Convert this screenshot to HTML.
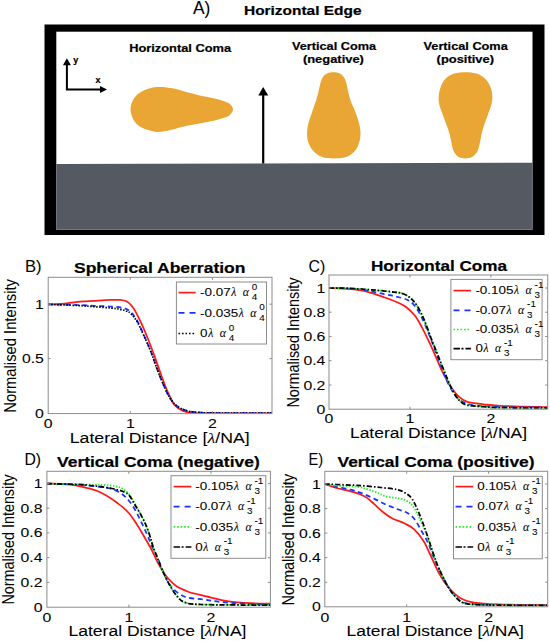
<!DOCTYPE html>
<html><head><meta charset="utf-8"><style>
html,body{margin:0;padding:0;background:#fff;width:550px;height:641px;overflow:hidden}
svg{display:block}
text{font-family:"Liberation Sans",sans-serif;fill:#000;stroke:#000;stroke-width:0.06px}
text[font-weight=bold]{stroke-width:0.2px}
.gr{font-family:"Liberation Serif",serif;font-style:italic}
</style></head><body>
<svg width="550" height="641" viewBox="0 0 550 641">
<rect width="550" height="641" fill="#fff"/>
<text x="193.0" y="14.4" font-size="18.00" textLength="17.4" lengthAdjust="spacingAndGlyphs">A)</text>
<text x="244.0" y="14.6" font-size="12.40" font-weight="bold" textLength="117.5" lengthAdjust="spacingAndGlyphs">Horizontal Edge</text>
<rect x="44.5" y="24.5" width="500" height="210.5" fill="#000"/>
<rect x="56.3" y="31.7" width="476.2" height="198.1" fill="#fff"/>
<polygon points="56.3,163.9 532.5,162.7 532.5,229.8 56.3,229.8" fill="#555A62"/>
<text x="129.2" y="51.9" font-size="11.30" font-weight="bold" textLength="102.0" lengthAdjust="spacingAndGlyphs">Horizontal Coma</text>
<text x="292.0" y="50.4" font-size="11.30" font-weight="bold" textLength="84.0" lengthAdjust="spacingAndGlyphs">Vertical Coma</text>
<text x="302.9" y="63.4" font-size="11.30" font-weight="bold" textLength="61.0" lengthAdjust="spacingAndGlyphs">(negative)</text>
<text x="423.5" y="50.4" font-size="11.30" font-weight="bold" textLength="84.3" lengthAdjust="spacingAndGlyphs">Vertical Coma</text>
<text x="436.6" y="63.4" font-size="11.30" font-weight="bold" textLength="57.4" lengthAdjust="spacingAndGlyphs">(positive)</text>
<path d="M66.9 64 V89.5 H101" stroke="#000" stroke-width="2" fill="none"/>
<polygon points="66.9,58.2 62.9,65.3 70.9,65.3" fill="#000"/>
<polygon points="107,89.5 100,86 100,93" fill="#000"/>
<text x="73.3" y="62.5" font-size="9.00" font-weight="bold">y</text>
<text x="95.6" y="82.7" font-size="9.00" font-weight="bold">x</text>
<path d="M263.2 94 V163.5" stroke="#000" stroke-width="2.2" fill="none"/>
<polygon points="263.2,87 258.3,95.6 268.2,95.6" fill="#000"/>
<path d="M130.50 109.50 C130.50 105.77 132.13 101.35 134.10 98.30 C136.07 95.25 138.57 93.07 142.30 91.20 C146.03 89.33 151.75 87.62 156.50 87.10 C161.25 86.58 165.70 87.25 170.80 88.10 C175.90 88.95 181.67 90.83 187.10 92.20 C192.53 93.57 198.32 95.12 203.40 96.30 C208.48 97.48 214.00 98.42 217.60 99.30 C221.20 100.18 222.87 100.72 225.00 101.60 C227.13 102.48 229.07 103.28 230.40 104.60 C231.73 105.92 233.00 107.87 233.00 109.50 C233.00 111.13 231.73 113.05 230.40 114.40 C229.07 115.75 227.13 116.72 225.00 117.60 C222.87 118.48 221.20 118.85 217.60 119.70 C214.00 120.55 208.48 121.68 203.40 122.70 C198.32 123.72 192.53 124.60 187.10 125.80 C181.67 127.00 175.90 128.88 170.80 129.90 C165.70 130.92 161.25 132.25 156.50 131.90 C151.75 131.55 146.03 129.67 142.30 127.80 C138.57 125.93 136.07 123.75 134.10 120.70 C132.13 117.65 130.50 113.23 130.50 109.50 Z" fill="#E9A634"/>
<path d="M333.40 72.20 C335.38 72.20 337.58 72.42 339.30 73.20 C341.02 73.98 342.53 75.30 343.70 76.90 C344.87 78.50 345.55 80.33 346.30 82.80 C347.05 85.27 347.40 88.48 348.20 91.70 C349.00 94.92 349.87 98.63 351.10 102.10 C352.33 105.57 354.23 108.80 355.60 112.50 C356.97 116.20 358.48 120.85 359.30 124.30 C360.12 127.75 360.50 130.23 360.50 133.20 C360.50 136.17 360.23 139.13 359.30 142.10 C358.37 145.07 357.12 148.52 354.90 151.00 C352.68 153.48 349.58 155.77 346.00 157.00 C342.42 158.23 337.37 158.40 333.40 158.40 C329.43 158.40 325.55 158.23 322.20 157.00 C318.85 155.77 315.63 153.48 313.30 151.00 C310.97 148.52 309.23 145.07 308.20 142.10 C307.17 139.13 307.10 136.17 307.10 133.20 C307.10 130.23 307.40 127.75 308.20 124.30 C309.00 120.85 310.67 116.20 311.90 112.50 C313.13 108.80 314.50 105.57 315.60 102.10 C316.70 98.63 317.68 94.92 318.50 91.70 C319.32 88.48 319.75 85.27 320.50 82.80 C321.25 80.33 321.85 78.50 323.00 76.90 C324.15 75.30 325.67 73.98 327.40 73.20 C329.13 72.42 331.42 72.20 333.40 72.20 Z" fill="#E9A634"/>
<path d="M465.40 72.20 C469.12 72.20 473.17 72.45 476.50 73.60 C479.83 74.75 483.05 76.82 485.40 79.10 C487.75 81.38 489.45 84.45 490.60 87.30 C491.75 90.15 492.18 93.23 492.30 96.20 C492.42 99.17 492.08 101.90 491.30 105.10 C490.52 108.30 488.83 111.95 487.60 115.40 C486.37 118.85 484.93 122.58 483.90 125.80 C482.87 129.02 482.10 131.73 481.40 134.70 C480.70 137.67 480.40 140.75 479.70 143.60 C479.00 146.45 478.48 149.57 477.20 151.80 C475.92 154.03 473.97 155.90 472.00 157.00 C470.03 158.10 467.62 158.40 465.40 158.40 C463.18 158.40 460.62 158.10 458.70 157.00 C456.78 155.90 455.08 154.03 453.90 151.80 C452.72 149.57 452.28 146.45 451.60 143.60 C450.92 140.75 450.60 137.67 449.80 134.70 C449.00 131.73 447.92 129.02 446.80 125.80 C445.68 122.58 444.33 118.85 443.10 115.40 C441.87 111.95 440.13 108.30 439.40 105.10 C438.67 101.90 438.50 99.17 438.70 96.20 C438.90 93.23 439.50 90.15 440.60 87.30 C441.70 84.45 443.03 81.38 445.30 79.10 C447.57 76.82 450.85 74.75 454.20 73.60 C457.55 72.45 461.68 72.20 465.40 72.20 Z" fill="#E9A634"/>
<clipPath id="cb"><rect x="48.2" y="274.3" width="223.8" height="139.3"/></clipPath>
<g clip-path="url(#cb)" fill="none" stroke-width="1.75">
<path d="M48.30 304.30 C50.48 304.23 56.50 304.32 61.40 303.90 C66.30 303.48 72.25 302.32 77.70 301.80 C83.15 301.28 88.63 301.12 94.10 300.80 C99.57 300.48 106.13 300.05 110.50 299.90 C114.87 299.75 117.58 299.63 120.30 299.90 C123.02 300.17 125.02 300.65 126.80 301.50 C128.58 302.35 129.63 303.48 131.00 305.00 C132.37 306.52 133.25 307.48 135.00 310.60 C136.75 313.72 139.33 318.97 141.50 323.70 C143.67 328.43 145.82 333.55 148.00 339.00 C150.18 344.45 152.43 350.48 154.60 356.40 C156.77 362.32 158.83 368.63 161.00 374.50 C163.17 380.37 165.35 386.52 167.60 391.60 C169.85 396.68 171.93 401.77 174.50 405.00 C177.07 408.23 180.13 409.70 183.00 411.00 C185.87 412.30 188.03 412.42 191.70 412.80 C195.37 413.18 191.62 413.20 205.00 413.30 C218.38 413.40 260.83 413.38 272.00 413.40" stroke="#ff1a1a"/>
<path d="M48.30 304.40 C53.20 304.50 70.07 304.77 77.70 305.00 C85.33 305.23 88.63 305.55 94.10 305.80 C99.57 306.05 105.58 306.13 110.50 306.50 C115.42 306.87 120.25 307.08 123.60 308.00 C126.95 308.92 128.32 309.83 130.60 312.00 C132.88 314.17 135.07 317.08 137.30 321.00 C139.53 324.92 141.72 330.33 144.00 335.50 C146.28 340.67 148.75 346.25 151.00 352.00 C153.25 357.75 155.33 364.33 157.50 370.00 C159.67 375.67 161.92 381.33 164.00 386.00 C166.08 390.67 167.90 394.70 170.00 398.00 C172.10 401.30 173.85 403.68 176.60 405.80 C179.35 407.92 182.72 409.60 186.50 410.70 C190.28 411.80 194.55 412.02 199.30 412.40 C204.05 412.78 202.88 412.87 215.00 413.00 C227.12 413.13 262.50 413.17 272.00 413.20" stroke="#1a33ff" stroke-dasharray="5 3.5"/>
<path d="M48.30 304.40 C53.20 304.58 70.07 305.12 77.70 305.50 C85.33 305.88 88.63 306.28 94.10 306.70 C99.57 307.12 106.13 307.57 110.50 308.00 C114.87 308.43 117.58 308.75 120.30 309.30 C123.02 309.85 125.08 310.60 126.80 311.30 C128.52 312.00 128.85 311.72 130.60 313.50 C132.35 315.28 135.07 318.25 137.30 322.00 C139.53 325.75 141.72 331.00 144.00 336.00 C146.28 341.00 148.75 346.33 151.00 352.00 C153.25 357.67 155.33 364.33 157.50 370.00 C159.67 375.67 161.92 381.33 164.00 386.00 C166.08 390.67 167.90 394.70 170.00 398.00 C172.10 401.30 173.85 403.68 176.60 405.80 C179.35 407.92 182.72 409.60 186.50 410.70 C190.28 411.80 194.55 412.02 199.30 412.40 C204.05 412.78 202.88 412.87 215.00 413.00 C227.12 413.13 262.50 413.17 272.00 413.20" stroke="#000000" stroke-dasharray="1.5 1.5"/>
</g>
<rect x="48.2" y="277.3" width="223.8" height="136.3" fill="none" stroke="#8c8c8c" stroke-width="1"/>
<path d="M130.3 413.6 v-2.5 M130.3 277.3 v2.5" stroke="#8c8c8c" stroke-width="1"/>
<path d="M212.4 413.6 v-2.5 M212.4 277.3 v2.5" stroke="#8c8c8c" stroke-width="1"/>
<path d="M48.2 358.6 h2.5 M272.0 358.6 h-2.5" stroke="#8c8c8c" stroke-width="1"/>
<path d="M48.2 304.2 h2.5 M272.0 304.2 h-2.5" stroke="#8c8c8c" stroke-width="1"/>
<rect x="176.4" y="282.0" width="90.1" height="62.0" fill="#fff" stroke="#8c8c8c" stroke-width="1"/>
<path d="M178.5 292.6 H195.7" stroke="#ff1a1a" stroke-width="1.7"/>
<text x="200.1" y="296.3" font-size="11.2" textLength="30.63" lengthAdjust="spacingAndGlyphs" class="lg">-0.07</text>
<text x="231.3" y="296.3" font-size="11.6" class="gr">λ</text>
<text x="242.8" y="296.3" font-size="11.8" class="gr">α</text>
<text x="251.8" y="289.6" font-size="8.6" class="lg" textLength="5.50" lengthAdjust="spacingAndGlyphs">0</text>
<text x="251.8" y="300.3" font-size="8.6" class="lg" textLength="5.50" lengthAdjust="spacingAndGlyphs">4</text>
<path d="M178.5 312.8 H195.7" stroke="#1a33ff" stroke-width="1.7" stroke-dasharray="6 5"/>
<text x="200.1" y="316.5" font-size="11.2" textLength="38.11" lengthAdjust="spacingAndGlyphs" class="lg">-0.035</text>
<text x="238.8" y="316.5" font-size="11.6" class="gr">λ</text>
<text x="250.3" y="316.5" font-size="11.8" class="gr">α</text>
<text x="259.3" y="309.8" font-size="8.6" class="lg" textLength="5.50" lengthAdjust="spacingAndGlyphs">0</text>
<text x="259.3" y="320.5" font-size="8.6" class="lg" textLength="5.50" lengthAdjust="spacingAndGlyphs">4</text>
<path d="M178.5 333.5 H195.7" stroke="#000000" stroke-width="1.7" stroke-dasharray="1.6 1.9"/>
<text x="200.1" y="337.2" font-size="11.2" textLength="7.47" lengthAdjust="spacingAndGlyphs" class="lg">0</text>
<text x="208.2" y="337.2" font-size="11.6" class="gr">λ</text>
<text x="219.7" y="337.2" font-size="11.8" class="gr">α</text>
<text x="228.7" y="330.5" font-size="8.6" class="lg" textLength="5.50" lengthAdjust="spacingAndGlyphs">0</text>
<text x="228.7" y="341.2" font-size="8.6" class="lg" textLength="5.50" lengthAdjust="spacingAndGlyphs">4</text>
<text x="25.0" y="271.6" font-size="16.50" textLength="16.6" lengthAdjust="spacingAndGlyphs">B)</text>
<text x="74.0" y="273.0" font-size="15.20" font-weight="bold" textLength="171.5" lengthAdjust="spacingAndGlyphs">Spherical Aberration</text>
<text x="69.7" y="443.2" font-size="13.80" textLength="180.0" lengthAdjust="spacingAndGlyphs">Lateral Distance [<tspan class="gr">λ</tspan>/NA]</text>
<text x="43.8" y="308.7" font-size="13.60" textLength="8.8" lengthAdjust="spacingAndGlyphs" text-anchor="end">1</text>
<text x="43.8" y="363.1" font-size="13.60" textLength="21.9" lengthAdjust="spacingAndGlyphs" text-anchor="end">0.5</text>
<text x="43.8" y="418.1" font-size="13.60" textLength="8.8" lengthAdjust="spacingAndGlyphs" text-anchor="end">0</text>
<text x="48.2" y="428.0" font-size="13.60" textLength="8.8" lengthAdjust="spacingAndGlyphs" text-anchor="middle">0</text>
<text x="130.3" y="428.0" font-size="13.60" textLength="8.8" lengthAdjust="spacingAndGlyphs" text-anchor="middle">1</text>
<text x="212.4" y="428.0" font-size="13.60" textLength="8.8" lengthAdjust="spacingAndGlyphs" text-anchor="middle">2</text>
<clipPath id="cc"><rect x="329.0" y="272.0" width="218.7" height="137.2"/></clipPath>
<g clip-path="url(#cc)" fill="none" stroke-width="1.75">
<path d="M329.00 288.00 C332.27 288.17 342.17 288.37 348.60 289.00 C355.03 289.63 361.68 290.42 367.60 291.80 C373.52 293.18 379.38 295.65 384.10 297.30 C388.82 298.95 392.35 300.17 395.90 301.70 C399.45 303.23 402.25 304.20 405.40 306.50 C408.55 308.80 412.05 312.03 414.80 315.50 C417.55 318.97 419.43 322.73 421.90 327.30 C424.37 331.87 427.22 337.85 429.60 342.90 C431.98 347.95 434.02 352.68 436.20 357.60 C438.38 362.52 440.25 367.48 442.70 372.40 C445.15 377.32 448.17 383.02 450.90 387.10 C453.63 391.18 456.37 394.45 459.10 396.90 C461.83 399.35 463.22 400.57 467.30 401.80 C471.38 403.03 478.15 403.63 483.60 404.30 C489.05 404.97 489.32 405.32 500.00 405.80 C510.68 406.28 539.75 406.97 547.70 407.20" stroke="#ff1a1a"/>
<path d="M329.00 288.00 C332.27 288.08 342.17 288.07 348.60 288.50 C355.03 288.93 361.68 289.65 367.60 290.60 C373.52 291.55 379.38 293.22 384.10 294.20 C388.82 295.18 391.97 295.53 395.90 296.50 C399.83 297.47 404.55 298.42 407.70 300.00 C410.85 301.58 412.43 303.03 414.80 306.00 C417.17 308.97 419.53 313.07 421.90 317.80 C424.27 322.53 426.82 329.03 429.00 334.40 C431.18 339.77 433.00 344.73 435.00 350.00 C437.00 355.27 438.83 360.50 441.00 366.00 C443.17 371.50 445.67 378.17 448.00 383.00 C450.33 387.83 452.50 391.83 455.00 395.00 C457.50 398.17 459.67 400.25 463.00 402.00 C466.33 403.75 468.83 404.67 475.00 405.50 C481.17 406.33 487.88 406.65 500.00 407.00 C512.12 407.35 539.75 407.50 547.70 407.60" stroke="#1a33ff" stroke-dasharray="5 3.5"/>
<path d="M329.00 288.00 C332.27 288.05 341.38 287.98 348.60 288.30 C355.82 288.62 364.42 289.23 372.30 289.90 C380.18 290.57 390.78 291.67 395.90 292.30 C401.02 292.93 400.63 292.80 403.00 293.70 C405.37 294.60 407.73 295.65 410.10 297.70 C412.47 299.75 414.83 302.25 417.20 306.00 C419.57 309.75 422.13 315.20 424.30 320.20 C426.47 325.20 428.77 332.22 430.20 336.00 C431.63 339.78 431.35 339.02 432.90 342.90 C434.45 346.78 437.32 353.85 439.50 359.30 C441.68 364.75 443.82 370.42 446.00 375.60 C448.18 380.78 450.42 386.30 452.60 390.40 C454.78 394.50 456.65 397.75 459.10 400.20 C461.55 402.65 463.22 404.02 467.30 405.10 C471.38 406.18 478.15 406.28 483.60 406.70 C489.05 407.12 489.32 407.38 500.00 407.60 C510.68 407.82 539.75 407.93 547.70 408.00" stroke="#22ee22" stroke-dasharray="1.5 1.5"/>
<path d="M329.00 288.00 C332.27 288.05 341.38 287.98 348.60 288.30 C355.82 288.62 364.42 289.23 372.30 289.90 C380.18 290.57 390.78 291.67 395.90 292.30 C401.02 292.93 400.63 292.80 403.00 293.70 C405.37 294.60 407.73 295.65 410.10 297.70 C412.47 299.75 414.83 302.25 417.20 306.00 C419.57 309.75 422.13 315.20 424.30 320.20 C426.47 325.20 428.77 332.22 430.20 336.00 C431.63 339.78 431.35 339.02 432.90 342.90 C434.45 346.78 437.32 353.85 439.50 359.30 C441.68 364.75 443.82 370.42 446.00 375.60 C448.18 380.78 450.42 386.30 452.60 390.40 C454.78 394.50 456.65 397.75 459.10 400.20 C461.55 402.65 463.22 404.02 467.30 405.10 C471.38 406.18 478.15 406.28 483.60 406.70 C489.05 407.12 489.32 407.38 500.00 407.60 C510.68 407.82 539.75 407.93 547.70 408.00" stroke="#000000" stroke-dasharray="5 2 1.5 2"/>
</g>
<rect x="329.0" y="275.0" width="218.7" height="134.2" fill="none" stroke="#8c8c8c" stroke-width="1"/>
<path d="M410.0 409.2 v-2.5 M410.0 275.0 v2.5" stroke="#8c8c8c" stroke-width="1"/>
<path d="M490.9 409.2 v-2.5 M490.9 275.0 v2.5" stroke="#8c8c8c" stroke-width="1"/>
<path d="M329.0 288.0 h2.5 M547.7 288.0 h-2.5" stroke="#8c8c8c" stroke-width="1"/>
<path d="M329.0 312.2 h2.5 M547.7 312.2 h-2.5" stroke="#8c8c8c" stroke-width="1"/>
<path d="M329.0 336.5 h2.5 M547.7 336.5 h-2.5" stroke="#8c8c8c" stroke-width="1"/>
<path d="M329.0 360.7 h2.5 M547.7 360.7 h-2.5" stroke="#8c8c8c" stroke-width="1"/>
<path d="M329.0 385.0 h2.5 M547.7 385.0 h-2.5" stroke="#8c8c8c" stroke-width="1"/>
<rect x="450.9" y="279.4" width="91.2" height="80.3" fill="#fff" stroke="#8c8c8c" stroke-width="1"/>
<path d="M453.5 290.6 H470.9" stroke="#ff1a1a" stroke-width="1.7"/>
<text x="475.4" y="294.3" font-size="11.2" textLength="38.11" lengthAdjust="spacingAndGlyphs" class="lg">-0.105</text>
<text x="514.1" y="294.3" font-size="11.6" class="gr">λ</text>
<text x="525.6" y="294.3" font-size="11.8" class="gr">α</text>
<text x="534.6" y="287.6" font-size="8.6" class="lg" textLength="8.79" lengthAdjust="spacingAndGlyphs">-1</text>
<text x="534.6" y="298.3" font-size="8.6" class="lg" textLength="5.50" lengthAdjust="spacingAndGlyphs">3</text>
<path d="M453.5 310.3 H470.9" stroke="#1a33ff" stroke-width="1.7" stroke-dasharray="6 5"/>
<text x="475.4" y="314.0" font-size="11.2" textLength="30.63" lengthAdjust="spacingAndGlyphs" class="lg">-0.07</text>
<text x="506.6" y="314.0" font-size="11.6" class="gr">λ</text>
<text x="518.1" y="314.0" font-size="11.8" class="gr">α</text>
<text x="527.1" y="307.3" font-size="8.6" class="lg" textLength="8.79" lengthAdjust="spacingAndGlyphs">-1</text>
<text x="527.1" y="318.0" font-size="8.6" class="lg" textLength="5.50" lengthAdjust="spacingAndGlyphs">3</text>
<path d="M453.5 329.5 H470.9" stroke="#22ee22" stroke-width="1.7" stroke-dasharray="1.6 1.9"/>
<text x="475.4" y="333.2" font-size="11.2" textLength="38.11" lengthAdjust="spacingAndGlyphs" class="lg">-0.035</text>
<text x="514.1" y="333.2" font-size="11.6" class="gr">λ</text>
<text x="525.6" y="333.2" font-size="11.8" class="gr">α</text>
<text x="534.6" y="326.5" font-size="8.6" class="lg" textLength="8.79" lengthAdjust="spacingAndGlyphs">-1</text>
<text x="534.6" y="337.2" font-size="8.6" class="lg" textLength="5.50" lengthAdjust="spacingAndGlyphs">3</text>
<path d="M453.5 348.7 H470.9" stroke="#000000" stroke-width="1.7" stroke-dasharray="6.5 1.5 2 2"/>
<text x="475.4" y="352.4" font-size="11.2" textLength="7.47" lengthAdjust="spacingAndGlyphs" class="lg">0</text>
<text x="483.5" y="352.4" font-size="11.6" class="gr">λ</text>
<text x="495.0" y="352.4" font-size="11.8" class="gr">α</text>
<text x="504.0" y="345.7" font-size="8.6" class="lg" textLength="8.79" lengthAdjust="spacingAndGlyphs">-1</text>
<text x="504.0" y="356.4" font-size="8.6" class="lg" textLength="5.50" lengthAdjust="spacingAndGlyphs">3</text>
<text x="308.4" y="272.2" font-size="16.50" textLength="16.8" lengthAdjust="spacingAndGlyphs">C)</text>
<text x="371.0" y="270.5" font-size="15.20" font-weight="bold" textLength="136.0" lengthAdjust="spacingAndGlyphs">Horizontal Coma</text>
<text x="350.0" y="437.6" font-size="13.80" textLength="177.0" lengthAdjust="spacingAndGlyphs">Lateral Distance [<tspan class="gr">λ</tspan>/NA]</text>
<text x="325.3" y="292.5" font-size="13.60" textLength="8.8" lengthAdjust="spacingAndGlyphs" text-anchor="end">1</text>
<text x="325.3" y="316.7" font-size="13.60" textLength="21.9" lengthAdjust="spacingAndGlyphs" text-anchor="end">0.8</text>
<text x="325.3" y="341.0" font-size="13.60" textLength="21.9" lengthAdjust="spacingAndGlyphs" text-anchor="end">0.6</text>
<text x="325.3" y="365.2" font-size="13.60" textLength="21.9" lengthAdjust="spacingAndGlyphs" text-anchor="end">0.4</text>
<text x="325.3" y="389.5" font-size="13.60" textLength="21.9" lengthAdjust="spacingAndGlyphs" text-anchor="end">0.2</text>
<text x="325.3" y="413.7" font-size="13.60" textLength="8.8" lengthAdjust="spacingAndGlyphs" text-anchor="end">0</text>
<text x="329.0" y="422.7" font-size="13.60" textLength="8.8" lengthAdjust="spacingAndGlyphs" text-anchor="middle">0</text>
<text x="410.0" y="422.7" font-size="13.60" textLength="8.8" lengthAdjust="spacingAndGlyphs" text-anchor="middle">1</text>
<text x="490.9" y="422.7" font-size="13.60" textLength="8.8" lengthAdjust="spacingAndGlyphs" text-anchor="middle">2</text>
<clipPath id="cd"><rect x="46.9" y="468.3" width="223.5" height="138.9"/></clipPath>
<g clip-path="url(#cd)" fill="none" stroke-width="1.75">
<path d="M46.90 483.60 C49.62 483.63 58.97 483.60 63.20 483.80 C67.43 484.00 69.27 484.33 72.30 484.80 C75.33 485.27 78.45 485.97 81.40 486.60 C84.35 487.23 87.35 487.87 90.00 488.60 C92.65 489.33 94.88 490.02 97.30 491.00 C99.72 491.98 102.08 493.18 104.50 494.50 C106.92 495.82 109.72 497.52 111.80 498.90 C113.88 500.28 115.13 501.38 117.00 502.80 C118.87 504.22 121.00 505.65 123.00 507.40 C125.00 509.15 127.00 510.95 129.00 513.30 C131.00 515.65 133.00 518.52 135.00 521.50 C137.00 524.48 139.00 527.87 141.00 531.20 C143.00 534.53 145.17 538.28 147.00 541.50 C148.83 544.72 150.50 547.58 152.00 550.50 C153.50 553.42 154.57 556.17 156.00 559.00 C157.43 561.83 158.90 564.65 160.60 567.50 C162.30 570.35 163.72 573.10 166.20 576.10 C168.68 579.10 171.75 582.85 175.50 585.50 C179.25 588.15 185.20 590.58 188.70 592.00 C192.20 593.42 192.73 593.07 196.50 594.00 C200.27 594.93 205.97 596.38 211.30 597.60 C216.63 598.82 221.95 600.37 228.50 601.30 C235.05 602.23 243.62 602.80 250.60 603.20 C257.58 603.60 267.10 603.62 270.40 603.70" stroke="#ff1a1a"/>
<path d="M46.90 483.60 C52.65 483.83 73.00 484.52 81.40 485.00 C89.80 485.48 92.47 485.93 97.30 486.50 C102.13 487.07 106.40 487.23 110.40 488.40 C114.40 489.57 118.28 491.53 121.30 493.50 C124.32 495.47 126.22 497.50 128.50 500.20 C130.78 502.90 133.13 506.57 135.00 509.70 C136.87 512.83 138.15 515.88 139.70 519.00 C141.25 522.12 142.90 525.43 144.30 528.40 C145.70 531.37 146.85 533.83 148.10 536.80 C149.35 539.77 150.35 543.08 151.80 546.20 C153.25 549.32 154.72 550.82 156.80 555.50 C158.88 560.18 161.80 568.98 164.30 574.30 C166.80 579.62 168.37 583.67 171.80 587.40 C175.23 591.13 179.55 594.68 184.90 596.70 C190.25 598.72 197.87 598.62 203.90 599.50 C209.93 600.38 214.55 601.30 221.10 602.00 C227.65 602.70 234.98 603.20 243.20 603.70 C251.42 604.20 265.87 604.78 270.40 605.00" stroke="#1a33ff" stroke-dasharray="5 3.5"/>
<path d="M46.90 483.60 C54.08 483.78 80.40 484.45 90.00 484.70 C99.60 484.95 100.25 484.85 104.50 485.10 C108.75 485.35 112.47 485.60 115.50 486.20 C118.53 486.80 120.40 487.32 122.70 488.70 C125.00 490.08 127.25 491.95 129.30 494.50 C131.35 497.05 133.12 500.75 135.00 504.00 C136.88 507.25 138.88 510.72 140.60 514.00 C142.32 517.28 143.90 520.52 145.30 523.70 C146.70 526.88 147.92 529.98 149.00 533.10 C150.08 536.22 150.97 539.67 151.80 542.40 C152.63 545.13 153.13 547.07 154.00 549.50 C154.87 551.93 155.60 553.50 157.00 557.00 C158.40 560.50 160.25 565.75 162.40 570.50 C164.55 575.25 167.40 581.13 169.90 585.50 C172.40 589.87 174.90 593.88 177.40 596.70 C179.90 599.52 180.90 601.10 184.90 602.40 C188.90 603.70 187.15 604.03 201.40 604.50 C215.65 604.97 258.90 605.08 270.40 605.20" stroke="#22ee22" stroke-dasharray="1.5 1.5"/>
<path d="M46.90 483.60 C52.65 483.77 74.22 484.28 81.40 484.60 C88.58 484.92 86.75 485.15 90.00 485.50 C93.25 485.85 97.27 486.20 100.90 486.70 C104.53 487.20 108.77 487.92 111.80 488.50 C114.83 489.08 116.92 489.55 119.10 490.20 C121.28 490.85 123.18 491.50 124.90 492.40 C126.62 493.30 127.72 493.50 129.40 495.60 C131.08 497.70 133.13 501.88 135.00 505.00 C136.87 508.12 138.88 511.18 140.60 514.30 C142.32 517.42 143.90 520.57 145.30 523.70 C146.70 526.83 147.92 529.98 149.00 533.10 C150.08 536.22 150.97 539.67 151.80 542.40 C152.63 545.13 153.13 547.07 154.00 549.50 C154.87 551.93 155.60 553.50 157.00 557.00 C158.40 560.50 160.25 565.75 162.40 570.50 C164.55 575.25 167.40 581.13 169.90 585.50 C172.40 589.87 174.90 593.88 177.40 596.70 C179.90 599.52 180.90 601.10 184.90 602.40 C188.90 603.70 187.15 604.03 201.40 604.50 C215.65 604.97 258.90 605.08 270.40 605.20" stroke="#000000" stroke-dasharray="5 2 1.5 2"/>
</g>
<rect x="46.9" y="471.3" width="223.5" height="135.9" fill="none" stroke="#8c8c8c" stroke-width="1"/>
<path d="M128.9 607.2 v-2.5 M128.9 471.3 v2.5" stroke="#8c8c8c" stroke-width="1"/>
<path d="M211.0 607.2 v-2.5 M211.0 471.3 v2.5" stroke="#8c8c8c" stroke-width="1"/>
<path d="M46.9 483.5 h2.5 M270.4 483.5 h-2.5" stroke="#8c8c8c" stroke-width="1"/>
<path d="M46.9 508.2 h2.5 M270.4 508.2 h-2.5" stroke="#8c8c8c" stroke-width="1"/>
<path d="M46.9 532.9 h2.5 M270.4 532.9 h-2.5" stroke="#8c8c8c" stroke-width="1"/>
<path d="M46.9 557.7 h2.5 M270.4 557.7 h-2.5" stroke="#8c8c8c" stroke-width="1"/>
<path d="M46.9 582.4 h2.5 M270.4 582.4 h-2.5" stroke="#8c8c8c" stroke-width="1"/>
<rect x="171.0" y="475.7" width="94.8" height="82.6" fill="#fff" stroke="#8c8c8c" stroke-width="1"/>
<path d="M173.6 486.6 H191.4" stroke="#ff1a1a" stroke-width="1.7"/>
<text x="195.2" y="490.3" font-size="11.2" textLength="38.11" lengthAdjust="spacingAndGlyphs" class="lg">-0.105</text>
<text x="233.9" y="490.3" font-size="11.6" class="gr">λ</text>
<text x="245.4" y="490.3" font-size="11.8" class="gr">α</text>
<text x="254.4" y="483.6" font-size="8.6" class="lg" textLength="8.79" lengthAdjust="spacingAndGlyphs">-1</text>
<text x="254.4" y="494.3" font-size="8.6" class="lg" textLength="5.50" lengthAdjust="spacingAndGlyphs">3</text>
<path d="M173.6 506.7 H191.4" stroke="#1a33ff" stroke-width="1.7" stroke-dasharray="6 5"/>
<text x="195.2" y="510.4" font-size="11.2" textLength="30.63" lengthAdjust="spacingAndGlyphs" class="lg">-0.07</text>
<text x="226.4" y="510.4" font-size="11.6" class="gr">λ</text>
<text x="237.9" y="510.4" font-size="11.8" class="gr">α</text>
<text x="246.9" y="503.7" font-size="8.6" class="lg" textLength="8.79" lengthAdjust="spacingAndGlyphs">-1</text>
<text x="246.9" y="514.4" font-size="8.6" class="lg" textLength="5.50" lengthAdjust="spacingAndGlyphs">3</text>
<path d="M173.6 526.8 H191.4" stroke="#22ee22" stroke-width="1.7" stroke-dasharray="1.6 1.9"/>
<text x="195.2" y="530.5" font-size="11.2" textLength="38.11" lengthAdjust="spacingAndGlyphs" class="lg">-0.035</text>
<text x="233.9" y="530.5" font-size="11.6" class="gr">λ</text>
<text x="245.4" y="530.5" font-size="11.8" class="gr">α</text>
<text x="254.4" y="523.8" font-size="8.6" class="lg" textLength="8.79" lengthAdjust="spacingAndGlyphs">-1</text>
<text x="254.4" y="534.5" font-size="8.6" class="lg" textLength="5.50" lengthAdjust="spacingAndGlyphs">3</text>
<path d="M173.6 547.0 H191.4" stroke="#000000" stroke-width="1.7" stroke-dasharray="6.5 1.5 2 2"/>
<text x="195.2" y="550.7" font-size="11.2" textLength="7.47" lengthAdjust="spacingAndGlyphs" class="lg">0</text>
<text x="203.3" y="550.7" font-size="11.6" class="gr">λ</text>
<text x="214.8" y="550.7" font-size="11.8" class="gr">α</text>
<text x="223.8" y="544.0" font-size="8.6" class="lg" textLength="8.79" lengthAdjust="spacingAndGlyphs">-1</text>
<text x="223.8" y="554.7" font-size="8.6" class="lg" textLength="5.50" lengthAdjust="spacingAndGlyphs">3</text>
<text x="24.5" y="465.3" font-size="16.50" textLength="16.6" lengthAdjust="spacingAndGlyphs">D)</text>
<text x="57.0" y="467.0" font-size="15.20" font-weight="bold" textLength="202.7" lengthAdjust="spacingAndGlyphs">Vertical Coma (negative)</text>
<text x="68.5" y="636.3" font-size="13.80" textLength="178.0" lengthAdjust="spacingAndGlyphs">Lateral Distance [<tspan class="gr">λ</tspan>/NA]</text>
<text x="42.5" y="488.0" font-size="13.60" textLength="8.8" lengthAdjust="spacingAndGlyphs" text-anchor="end">1</text>
<text x="42.5" y="512.7" font-size="13.60" textLength="21.9" lengthAdjust="spacingAndGlyphs" text-anchor="end">0.8</text>
<text x="42.5" y="537.4" font-size="13.60" textLength="21.9" lengthAdjust="spacingAndGlyphs" text-anchor="end">0.6</text>
<text x="42.5" y="562.2" font-size="13.60" textLength="21.9" lengthAdjust="spacingAndGlyphs" text-anchor="end">0.4</text>
<text x="42.5" y="586.9" font-size="13.60" textLength="21.9" lengthAdjust="spacingAndGlyphs" text-anchor="end">0.2</text>
<text x="42.5" y="611.7" font-size="13.60" textLength="8.8" lengthAdjust="spacingAndGlyphs" text-anchor="end">0</text>
<text x="46.9" y="622.0" font-size="13.60" textLength="8.8" lengthAdjust="spacingAndGlyphs" text-anchor="middle">0</text>
<text x="128.9" y="622.0" font-size="13.60" textLength="8.8" lengthAdjust="spacingAndGlyphs" text-anchor="middle">1</text>
<text x="211.0" y="622.0" font-size="13.60" textLength="8.8" lengthAdjust="spacingAndGlyphs" text-anchor="middle">2</text>
<clipPath id="ce"><rect x="324.8" y="468.3" width="222.9" height="138.5"/></clipPath>
<g clip-path="url(#ce)" fill="none" stroke-width="1.75">
<path d="M324.80 484.00 C326.70 484.67 331.93 486.78 336.20 488.00 C340.47 489.22 346.43 490.27 350.40 491.30 C354.37 492.33 357.23 493.10 360.00 494.20 C362.77 495.30 364.67 496.30 367.00 497.90 C369.33 499.50 371.25 501.37 374.00 503.80 C376.75 506.23 380.35 510.02 383.50 512.50 C386.65 514.98 389.37 516.87 392.90 518.70 C396.43 520.53 401.15 521.72 404.70 523.50 C408.25 525.28 411.03 526.45 414.20 529.40 C417.37 532.35 421.15 537.27 423.70 541.20 C426.25 545.13 426.97 547.68 429.50 553.00 C432.03 558.32 435.75 567.38 438.90 573.10 C442.05 578.82 444.85 583.17 448.40 587.30 C451.95 591.43 455.87 595.35 460.20 597.90 C464.53 600.45 468.10 601.53 474.40 602.60 C480.70 603.67 485.78 603.90 498.00 604.30 C510.22 604.70 539.42 604.88 547.70 605.00" stroke="#ff1a1a"/>
<path d="M324.80 484.00 C326.70 484.47 331.93 485.85 336.20 486.80 C340.47 487.75 346.07 488.60 350.40 489.70 C354.73 490.80 358.27 491.92 362.20 493.40 C366.13 494.88 370.07 496.73 374.00 498.60 C377.93 500.47 381.87 502.82 385.80 504.60 C389.73 506.38 394.05 507.93 397.60 509.30 C401.15 510.67 404.33 511.23 407.10 512.80 C409.87 514.37 411.83 515.73 414.20 518.70 C416.57 521.67 418.93 526.45 421.30 530.60 C423.67 534.75 426.45 539.37 428.40 543.60 C430.35 547.83 431.25 551.77 433.00 556.00 C434.75 560.23 436.33 563.78 438.90 569.00 C441.47 574.22 445.25 582.28 448.40 587.30 C451.55 592.32 455.03 596.48 457.80 599.10 C460.57 601.72 459.48 602.02 465.00 603.00 C470.52 603.98 477.12 604.58 490.90 605.00 C504.68 605.42 538.23 605.42 547.70 605.50" stroke="#1a33ff" stroke-dasharray="5 3.5"/>
<path d="M324.80 484.00 C326.70 484.27 330.75 485.13 336.20 485.60 C341.65 486.07 351.20 485.82 357.50 486.80 C363.80 487.78 369.28 489.92 374.00 491.50 C378.72 493.08 381.87 495.18 385.80 496.30 C389.73 497.42 394.05 497.42 397.60 498.20 C401.15 498.98 404.33 499.35 407.10 501.00 C409.87 502.65 411.83 504.55 414.20 508.10 C416.57 511.65 418.93 517.18 421.30 522.30 C423.67 527.42 426.43 533.48 428.40 538.80 C430.37 544.12 431.35 549.27 433.10 554.20 C434.85 559.13 436.35 562.88 438.90 568.40 C441.45 573.92 445.25 582.18 448.40 587.30 C451.55 592.42 454.65 596.35 457.80 599.10 C460.95 601.85 461.78 602.82 467.30 603.80 C472.82 604.78 477.50 604.72 490.90 605.00 C504.30 605.28 538.23 605.42 547.70 605.50" stroke="#22ee22" stroke-dasharray="1.5 1.5"/>
<path d="M324.80 484.00 C326.70 484.08 330.75 484.27 336.20 484.50 C341.65 484.73 350.02 484.90 357.50 485.40 C364.98 485.90 374.42 486.78 381.10 487.50 C387.78 488.22 393.67 488.83 397.60 489.70 C401.53 490.57 402.33 491.22 404.70 492.70 C407.07 494.18 409.43 495.25 411.80 498.60 C414.17 501.95 416.53 507.28 418.90 512.80 C421.27 518.32 423.63 525.00 426.00 531.70 C428.37 538.40 430.95 546.88 433.10 553.00 C435.25 559.12 436.35 562.68 438.90 568.40 C441.45 574.12 445.25 582.18 448.40 587.30 C451.55 592.42 454.65 596.35 457.80 599.10 C460.95 601.85 461.78 602.82 467.30 603.80 C472.82 604.78 477.50 604.72 490.90 605.00 C504.30 605.28 538.23 605.42 547.70 605.50" stroke="#000000" stroke-dasharray="5 2 1.5 2"/>
</g>
<rect x="324.8" y="471.3" width="222.9" height="135.5" fill="none" stroke="#8c8c8c" stroke-width="1"/>
<path d="M406.7 606.8 v-2.5 M406.7 471.3 v2.5" stroke="#8c8c8c" stroke-width="1"/>
<path d="M488.6 606.8 v-2.5 M488.6 471.3 v2.5" stroke="#8c8c8c" stroke-width="1"/>
<path d="M324.8 484.0 h2.5 M547.7 484.0 h-2.5" stroke="#8c8c8c" stroke-width="1"/>
<path d="M324.8 508.6 h2.5 M547.7 508.6 h-2.5" stroke="#8c8c8c" stroke-width="1"/>
<path d="M324.8 533.1 h2.5 M547.7 533.1 h-2.5" stroke="#8c8c8c" stroke-width="1"/>
<path d="M324.8 557.7 h2.5 M547.7 557.7 h-2.5" stroke="#8c8c8c" stroke-width="1"/>
<path d="M324.8 582.2 h2.5 M547.7 582.2 h-2.5" stroke="#8c8c8c" stroke-width="1"/>
<rect x="453.5" y="476.3" width="88.8" height="82.5" fill="#fff" stroke="#8c8c8c" stroke-width="1"/>
<path d="M455.5 486.6 H473.2" stroke="#ff1a1a" stroke-width="1.7"/>
<text x="477.2" y="490.3" font-size="11.2" textLength="33.63" lengthAdjust="spacingAndGlyphs" class="lg">0.105</text>
<text x="511.4" y="490.3" font-size="11.6" class="gr">λ</text>
<text x="522.9" y="490.3" font-size="11.8" class="gr">α</text>
<text x="531.9" y="483.6" font-size="8.6" class="lg" textLength="8.79" lengthAdjust="spacingAndGlyphs">-1</text>
<text x="531.9" y="494.3" font-size="8.6" class="lg" textLength="5.50" lengthAdjust="spacingAndGlyphs">3</text>
<path d="M455.5 506.7 H473.2" stroke="#1a33ff" stroke-width="1.7" stroke-dasharray="6 5"/>
<text x="477.2" y="510.4" font-size="11.2" textLength="26.16" lengthAdjust="spacingAndGlyphs" class="lg">0.07</text>
<text x="504.0" y="510.4" font-size="11.6" class="gr">λ</text>
<text x="515.5" y="510.4" font-size="11.8" class="gr">α</text>
<text x="524.5" y="503.7" font-size="8.6" class="lg" textLength="8.79" lengthAdjust="spacingAndGlyphs">-1</text>
<text x="524.5" y="514.4" font-size="8.6" class="lg" textLength="5.50" lengthAdjust="spacingAndGlyphs">3</text>
<path d="M455.5 526.8 H473.2" stroke="#22ee22" stroke-width="1.7" stroke-dasharray="1.6 1.9"/>
<text x="477.2" y="530.5" font-size="11.2" textLength="33.63" lengthAdjust="spacingAndGlyphs" class="lg">0.035</text>
<text x="511.4" y="530.5" font-size="11.6" class="gr">λ</text>
<text x="522.9" y="530.5" font-size="11.8" class="gr">α</text>
<text x="531.9" y="523.8" font-size="8.6" class="lg" textLength="8.79" lengthAdjust="spacingAndGlyphs">-1</text>
<text x="531.9" y="534.5" font-size="8.6" class="lg" textLength="5.50" lengthAdjust="spacingAndGlyphs">3</text>
<path d="M455.5 547.0 H473.2" stroke="#000000" stroke-width="1.7" stroke-dasharray="6.5 1.5 2 2"/>
<text x="477.2" y="550.7" font-size="11.2" textLength="7.47" lengthAdjust="spacingAndGlyphs" class="lg">0</text>
<text x="485.3" y="550.7" font-size="11.6" class="gr">λ</text>
<text x="496.8" y="550.7" font-size="11.8" class="gr">α</text>
<text x="505.8" y="544.0" font-size="8.6" class="lg" textLength="8.79" lengthAdjust="spacingAndGlyphs">-1</text>
<text x="505.8" y="554.7" font-size="8.6" class="lg" textLength="5.50" lengthAdjust="spacingAndGlyphs">3</text>
<text x="308.6" y="465.4" font-size="16.50" textLength="14.6" lengthAdjust="spacingAndGlyphs">E)</text>
<text x="337.5" y="467.0" font-size="15.20" font-weight="bold" textLength="197.0" lengthAdjust="spacingAndGlyphs">Vertical Coma (positive)</text>
<text x="346.5" y="636.3" font-size="13.80" textLength="177.5" lengthAdjust="spacingAndGlyphs">Lateral Distance [<tspan class="gr">λ</tspan>/NA]</text>
<text x="320.8" y="488.5" font-size="13.60" textLength="8.8" lengthAdjust="spacingAndGlyphs" text-anchor="end">1</text>
<text x="320.8" y="513.1" font-size="13.60" textLength="21.9" lengthAdjust="spacingAndGlyphs" text-anchor="end">0.8</text>
<text x="320.8" y="537.6" font-size="13.60" textLength="21.9" lengthAdjust="spacingAndGlyphs" text-anchor="end">0.6</text>
<text x="320.8" y="562.2" font-size="13.60" textLength="21.9" lengthAdjust="spacingAndGlyphs" text-anchor="end">0.4</text>
<text x="320.8" y="586.7" font-size="13.60" textLength="21.9" lengthAdjust="spacingAndGlyphs" text-anchor="end">0.2</text>
<text x="320.8" y="611.3" font-size="13.60" textLength="8.8" lengthAdjust="spacingAndGlyphs" text-anchor="end">0</text>
<text x="324.8" y="622.0" font-size="13.60" textLength="8.8" lengthAdjust="spacingAndGlyphs" text-anchor="middle">0</text>
<text x="406.7" y="622.0" font-size="13.60" textLength="8.8" lengthAdjust="spacingAndGlyphs" text-anchor="middle">1</text>
<text x="488.6" y="622.0" font-size="13.60" textLength="8.8" lengthAdjust="spacingAndGlyphs" text-anchor="middle">2</text>
<text transform="translate(16.3 412.7) rotate(-90)" font-size="17.0" textLength="133.7" lengthAdjust="spacingAndGlyphs">Normalised Intensity</text>
<text transform="translate(298.6 407.5) rotate(-90)" font-size="17.0" textLength="130.0" lengthAdjust="spacingAndGlyphs">Normalised Intensity</text>
<text transform="translate(13.6 604.6) rotate(-90)" font-size="17.0" textLength="130.0" lengthAdjust="spacingAndGlyphs">Normalised Intensity</text>
<text transform="translate(293.8 605.5) rotate(-90)" font-size="17.0" textLength="131.5" lengthAdjust="spacingAndGlyphs">Normalised Intensity</text>
</svg></body></html>
